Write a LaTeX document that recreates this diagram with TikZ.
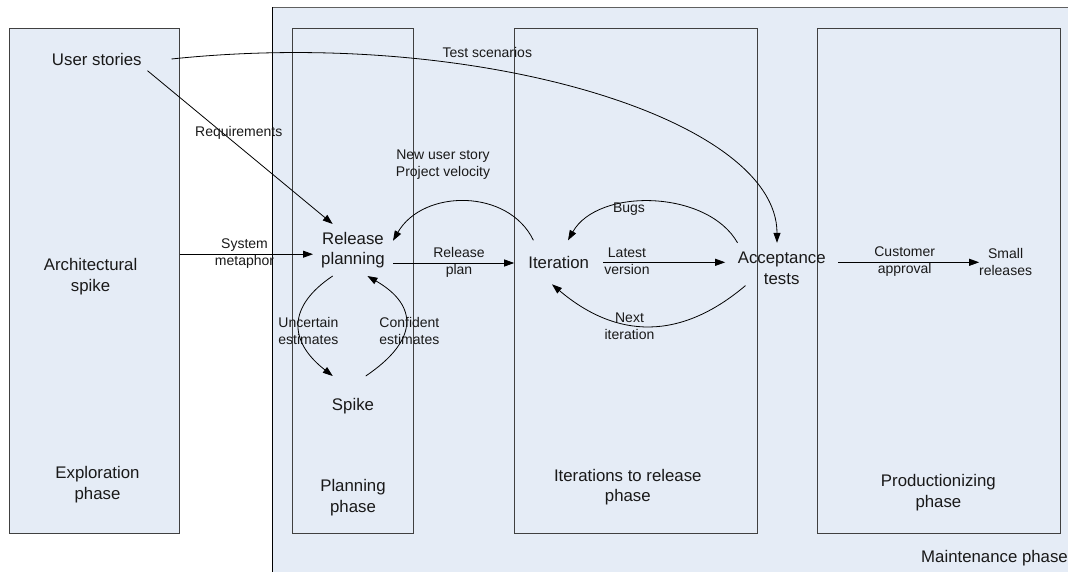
\documentclass[tikz,border=0pt]{standalone}
\usepackage{fontspec}
\setmainfont{Liberation Sans}
\usetikzlibrary{arrows.meta}
\definecolor{panel}{HTML}{E5ECF6}
\definecolor{frame}{HTML}{404040}
\begin{document}
\begin{tikzpicture}[x=1pt,y=-1pt,
  phase/.style={draw=frame, fill=panel, line width=0.9pt, inner sep=0pt, outer sep=0pt, minimum height=505pt},
  big/.style={font=\fontsize{16.8}{20.5}\selectfont, align=center, inner sep=0pt, outer sep=0pt, text=black!90},
  lbl/.style={font=\fontsize{14}{17}\selectfont, align=center, inner sep=0pt, outer sep=0pt, text=black!90},
  flow/.style={line width=0.8pt, -{Triangle[length=10pt,width=7pt]}},
  ]
\useasboundingbox (0,0) rectangle (1068,571);
\clip (0,0) rectangle (1068,571);

% maintenance frame, running off the page to the right and bottom
\node[phase, draw=gray!75!black, minimum width=807.6pt, minimum height=572.7pt] (mt) at (676.2,293.65) {};
\draw[line width=0.9pt] (mt.north west) -- (mt.south west);

% phase columns
\node[phase, minimum width=170.2pt] (ex) at (94.7,280.8) {};
\node[phase, minimum width=121.5pt] (pl) at (353.15,280.8) {};
\node[phase, minimum width=242.4pt] (ib) at (636,280.8) {};
\node[phase, minimum width=243pt] (pb) at (938.7,280.8) {};

% activities
\node[big, minimum width=149.4pt, minimum height=23.4pt] (us) at (96.8,59) {User stories};
\node[big, minimum width=80pt, minimum height=52pt] (rp) at (353,250) {Release\\planning};
\node[big, minimum width=50pt, minimum height=60pt] (sp) at (353,406) {Spike};
\node[big, minimum width=89pt, minimum height=44pt] (it) at (558.7,262.3) {Iteration};
\node[big, minimum width=113pt, minimum height=51pt] (at) at (781.7,268.3) {Acceptance\\tests};
\node[lbl] (sr) at (1005.6,261.7) {Small\\releases};

% phase titles
\node[big] (tas) at (90.6,276.7) {Architectural\\spike};
\node[big] (tep) at (97.5,484.7) {Exploration\\phase};
\node[big] (tpp) at (353,497.8) {Planning\\phase};
\node[big] (tip) at (627.8,487) {Iterations to release\\phase};
\node[big] (tpr) at (938.4,492.7) {Productionizing\\phase};
\node[big, anchor=west] (tmp) at (921.2,557.7) {Maintenance phase};

% flows
\draw[flow] (us.east) .. controls (475.6,27) and (777,118.4) .. ([xshift=-4.7pt]at.north);
\draw[flow] (us.347.8) -- (rp.128.5);
\draw[flow] (ex.east |- rp.186.1) -- (rp.186.1);
\draw[flow] (rp.342.9) -- (rp.342.9 -| it.west);
\draw[flow] (it.139.2) .. controls +(-25,-52) and +(30,-52) .. (rp.13.8);
\draw[flow] (rp.232.9) .. controls +(-45,30) and +(-45,-35) .. (sp.124.6);
\draw[flow] (sp.67.3) .. controls +(52,-35) and +(52,30) .. (rp.299.6);
\draw[flow] (at.150.4) .. controls +(-30,-53) and +(30,-53) .. (it.67.4);
\draw[flow] (it.east) -- (it.east -| at.west);
\draw[flow] ([xshift=20.3pt]at.197) .. controls +(-65,55) and +(65,55) .. (it.253.5);
\draw[flow] (at.east |- it.east) -- (sr.west |- it.east);

% flow labels
\node[lbl] (lts) at (487.3,52.3) {Test scenarios};
\node[lbl] (lrq) at (238.8,133.3) {Requirements};
\node[lbl] (lnu) at (443,164.7) {New user story\\Project velocity};
\node[lbl] (lsm) at (244.5,253.7) {System\\metaphor};
\node[lbl] (lrp) at (459,262) {Release\\plan};
\node[lbl] (lbg) at (629,209.3) {Bugs};
\node[lbl] (llv) at (627,261.7) {Latest\\version};
\node[lbl] (lca) at (904.7,261.7) {Customer\\approval};
\node[lbl] (lni) at (629.5,326.7) {Next\\iteration};
\node[lbl] (lue) at (308.4,330.8) {Uncertain\\estimates};
\node[lbl] (lce) at (409.4,330.8) {Confident\\estimates};
\end{tikzpicture}
\end{document}
